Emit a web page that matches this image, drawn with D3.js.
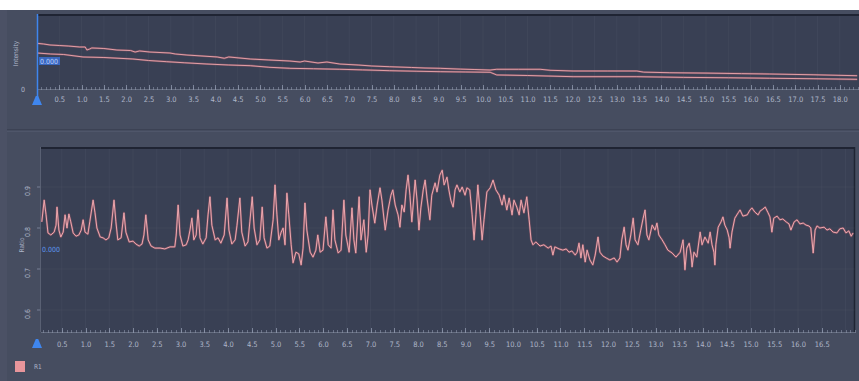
<!DOCTYPE html>
<html>
<head>
<meta charset="utf-8">
<script src="https://cdn.jsdelivr.net/npm/d3@7/dist/d3.min.js"></script>
<style>
  html, body { margin: 0; padding: 0; background: #ffffff; }
  svg { display: block; }
  text { font-family: "DejaVu Sans Condensed", "Liberation Sans", "DejaVu Sans", sans-serif; }
</style>
</head>
<body>
<svg id="chart" width="859" height="381"></svg>
<script>
// ---- Intensity traces (time in s, intensity in arbitrary units) ----
const intensityUpper = [
  [0,0.609],[0.15,0.600],[0.29,0.587],[0.5,0.580],[0.7,0.573],[0.96,0.560],[1.08,0.560],[1.12,0.520],
  [1.18,0.533],[1.23,0.547],[1.5,0.540],[1.79,0.520],[2.1,0.513],[2.2,0.493],[2.3,0.507],[2.53,0.493],
  [2.98,0.480],[3.1,0.467],[3.36,0.453],[3.7,0.440],[4.04,0.427],[4.2,0.410],[4.3,0.427],[4.78,0.400],
  [5.2,0.387],[5.67,0.373],[5.9,0.360],[6.0,0.373],[6.3,0.347],[6.5,0.360],[6.79,0.333],[7.2,0.320],
  [7.5,0.307],[7.91,0.297],[8.4,0.287],[8.7,0.280],[9.04,0.276],[9.5,0.265],[9.8,0.260],[10.16,0.253],
  [10.31,0.263],[10.8,0.263],[11.28,0.263],[11.5,0.250],[12.02,0.240],[12.8,0.240],[13.45,0.240],
  [13.6,0.225],[14.19,0.217],[15.0,0.212],[15.8,0.205],[16.43,0.200],[17.4,0.190],[18.39,0.177]
];
const intensityLower = [
  [0,0.480],[0.3,0.467],[0.6,0.460],[1.03,0.427],[1.5,0.420],[2.15,0.400],[2.5,0.380],[2.91,0.364],
  [3.3,0.350],[3.81,0.333],[4.3,0.320],[4.78,0.311],[5.2,0.290],[5.67,0.276],[6.2,0.270],[6.79,0.263],
  [7.3,0.255],[7.91,0.244],[8.5,0.237],[9.04,0.231],[9.6,0.227],[10.16,0.223],[10.31,0.187],[11.0,0.180],
  [12.02,0.164],[13.45,0.164],[14.5,0.155],[15.5,0.150],[16.43,0.143],[17.4,0.137],[18.39,0.129]
];

// ---- Ratio trace R1 (time in s, ratio) ----
const ratioR1 = [
  [0.08,0.815],[0.13,0.868],[0.17,0.832],[0.21,0.788],[0.27,0.783],[0.34,0.790],[0.38,0.807],[0.40,0.851],
  [0.44,0.795],[0.48,0.778],[0.53,0.790],[0.57,0.832],[0.61,0.800],[0.65,0.834],[0.69,0.815],[0.74,0.788],
  [0.80,0.780],[0.86,0.783],[0.91,0.795],[0.95,0.820],[0.99,0.790],[1.05,0.785],[1.09,0.815],[1.16,0.868],
  [1.20,0.837],[1.24,0.800],[1.31,0.778],[1.37,0.776],[1.43,0.771],[1.49,0.776],[1.54,0.800],[1.60,0.868],
  [1.64,0.815],[1.68,0.771],[1.75,0.776],[1.81,0.837],[1.85,0.790],[1.92,0.766],[2.00,0.768],[2.06,0.761],
  [2.13,0.756],[2.19,0.761],[2.23,0.783],[2.27,0.832],[2.32,0.771],[2.38,0.756],[2.46,0.751],[2.57,0.751],
  [2.67,0.749],[2.78,0.754],[2.88,0.754],[2.91,0.783],[2.95,0.856],[2.99,0.783],[3.05,0.756],[3.12,0.759],
  [3.16,0.771],[3.20,0.795],[3.24,0.824],[3.28,0.771],[3.33,0.783],[3.37,0.844],[3.41,0.776],[3.47,0.761],
  [3.54,0.776],[3.58,0.832],[3.62,0.876],[3.66,0.807],[3.73,0.771],[3.79,0.776],[3.85,0.763],[3.92,0.783],
  [3.98,0.873],[4.02,0.795],[4.08,0.761],[4.15,0.771],[4.19,0.807],[4.25,0.873],[4.29,0.790],[4.36,0.756],
  [4.42,0.766],[4.46,0.815],[4.51,0.876],[4.55,0.800],[4.61,0.759],[4.67,0.771],[4.72,0.851],[4.76,0.776],
  [4.82,0.751],[4.88,0.756],[4.95,0.820],[4.99,0.905],[5.03,0.832],[5.07,0.771],[5.12,0.790],[5.16,0.800],
  [5.20,0.759],[5.24,0.885],[5.28,0.832],[5.33,0.759],[5.37,0.715],[5.43,0.741],[5.49,0.737],[5.54,0.710],
  [5.58,0.751],[5.62,0.861],[5.66,0.795],[5.73,0.741],[5.79,0.729],[5.85,0.746],[5.89,0.783],[5.94,0.741],
  [6.00,0.746],[6.06,0.827],[6.11,0.759],[6.17,0.751],[6.21,0.844],[6.25,0.771],[6.32,0.739],[6.38,0.746],
  [6.44,0.868],[6.48,0.783],[6.55,0.741],[6.61,0.849],[6.65,0.771],[6.69,0.739],[6.76,0.876],[6.80,0.771],
  [6.86,0.820],[6.91,0.741],[6.95,0.783],[6.99,0.893],[7.03,0.856],[7.09,0.812],[7.14,0.856],[7.20,0.898],
  [7.24,0.868],[7.31,0.795],[7.37,0.844],[7.43,0.880],[7.47,0.893],[7.52,0.856],[7.58,0.832],[7.62,0.802],
  [7.66,0.856],[7.71,0.839],[7.75,0.893],[7.79,0.929],[7.83,0.880],[7.87,0.815],[7.94,0.917],[7.98,0.868],
  [8.02,0.795],[8.06,0.849],[8.11,0.893],[8.15,0.917],[8.19,0.873],[8.25,0.820],[8.29,0.880],[8.36,0.910],
  [8.40,0.888],[8.46,0.929],[8.51,0.941],[8.55,0.905],[8.61,0.924],[8.65,0.893],[8.69,0.868],[8.74,0.851],
  [8.78,0.893],[8.82,0.905],[8.88,0.888],[8.93,0.900],[8.99,0.880],[9.03,0.898],[9.09,0.893],[9.14,0.832],
  [9.18,0.771],[9.22,0.832],[9.26,0.905],[9.31,0.832],[9.35,0.771],[9.39,0.820],[9.45,0.888],[9.52,0.898],
  [9.58,0.917],[9.64,0.893],[9.71,0.880],[9.77,0.856],[9.81,0.880],[9.87,0.844],[9.92,0.873],[9.98,0.832],
  [10.02,0.868],[10.08,0.851],[10.13,0.832],[10.17,0.868],[10.23,0.837],[10.29,0.876],[10.34,0.820],[10.38,0.771],
  [10.42,0.759],[10.48,0.766],[10.57,0.756],[10.65,0.759],[10.74,0.751],[10.80,0.756],[10.84,0.734],[10.88,0.754],
  [10.97,0.749],[11.05,0.746],[11.12,0.749],[11.18,0.741],[11.24,0.744],[11.31,0.734],[11.35,0.741],[11.39,0.763],
  [11.43,0.727],[11.47,0.759],[11.52,0.717],[11.56,0.746],[11.62,0.722],[11.68,0.710],[11.73,0.734],[11.79,0.778],
  [11.83,0.741],[11.89,0.732],[11.96,0.727],[12.04,0.722],[12.13,0.727],[12.19,0.717],[12.25,0.727],[12.29,0.771],
  [12.34,0.802],[12.38,0.759],[12.42,0.746],[12.48,0.783],[12.53,0.824],[12.57,0.771],[12.63,0.759],[12.69,0.795],
  [12.74,0.824],[12.78,0.844],[12.82,0.783],[12.86,0.771],[12.93,0.807],[12.99,0.795],[13.03,0.812],[13.07,0.783],
  [13.14,0.771],[13.20,0.759],[13.26,0.746],[13.35,0.739],[13.43,0.729],[13.52,0.741],[13.58,0.771],[13.62,0.698],
  [13.66,0.751],[13.71,0.763],[13.75,0.734],[13.77,0.705],[13.81,0.741],[13.87,0.729],[13.94,0.790],[13.98,0.759],
  [14.04,0.778],[14.11,0.763],[14.15,0.790],[14.19,0.759],[14.23,0.741],[14.25,0.710],[14.27,0.759],[14.32,0.802],
  [14.38,0.815],[14.42,0.827],[14.46,0.807],[14.51,0.795],[14.55,0.776],[14.57,0.751],[14.61,0.790],[14.67,0.824],
  [14.74,0.837],[14.78,0.844],[14.84,0.829],[14.93,0.832],[14.99,0.844],[15.03,0.849],[15.09,0.839],[15.16,0.832],
  [15.20,0.841],[15.26,0.846],[15.31,0.851],[15.37,0.837],[15.41,0.827],[15.45,0.790],[15.49,0.824],[15.56,0.829],
  [15.62,0.820],[15.68,0.822],[15.75,0.815],[15.81,0.810],[15.85,0.795],[15.92,0.815],[15.98,0.820],[16.04,0.810],
  [16.11,0.812],[16.17,0.807],[16.23,0.805],[16.27,0.800],[16.32,0.739],[16.36,0.795],[16.40,0.805],[16.46,0.800],
  [16.55,0.802],[16.61,0.795],[16.67,0.798],[16.74,0.790],[16.82,0.788],[16.88,0.798],[16.95,0.800],[17.01,0.788],
  [17.07,0.793],[17.12,0.780],[17.16,0.788]
];

// ---- Axis tick values ----
const intensityTimeTicks = [0.5,1.0,1.5,2.0,2.5,3.0,3.5,4.0,4.5,5.0,5.5,6.0,6.5,7.0,7.5,8.0,8.5,9.0,
  9.5,10.0,10.5,11.0,11.5,12.0,12.5,13.0,13.5,14.0,14.5,15.0,15.5,16.0,16.5,17.0,17.5,18.0];
const ratioTimeTicks = [0.5,1.0,1.5,2.0,2.5,3.0,3.5,4.0,4.5,5.0,5.5,6.0,6.5,7.0,7.5,8.0,8.5,9.0,
  9.5,10.0,10.5,11.0,11.5,12.0,12.5,13.0,13.5,14.0,14.5,15.0,15.5,16.0,16.5];
const ratioTicks = [0.6,0.7,0.8,0.9];
const intensityTicks = [0];
const seriesNames = ["R1"];

// ---- Palette ----
const C = {
  panel: "#464d60",
  plot: "#394054",
  plotEdge: "#1f2433",
  grid: "rgba(255,255,255,0.035)",
  ruler: "#8d96ab",
  label: "#aeb6c8",
  trace: "#eea7ad",
  traceHalo: "#b5606f",
  blue: "#3f86ee"
};

const svg = d3.select("#chart");
const W = 859, H = 381;

// backgrounds
svg.append("rect").attr("width", W).attr("height", H).attr("fill", C.panel);
svg.append("rect").attr("width", W).attr("height", 10).attr("fill", "#ffffff");
svg.append("rect").attr("x", 0).attr("y", 10).attr("width", 7).attr("height", H - 10).attr("fill", "#4b5165");
svg.append("line").attr("x1", 7).attr("x2", W).attr("y1", 129.5).attr("y2", 129.5)
  .attr("stroke", "#3c4254").attr("stroke-width", 1);
svg.append("line").attr("x1", 7).attr("x2", W).attr("y1", 131.5).attr("y2", 131.5)
  .attr("stroke", "#4f566a").attr("stroke-width", 1);

// ---------- Top panel: Intensity ----------
const topBox = { left: 37, right: 859, top: 14, bottom: 89 };
const xTop = d3.scaleLinear().domain([0, 18]).range([37, 37 + 18 * 44.6]);
const yTop = d3.scaleLinear().domain([0, 1]).range([topBox.bottom, topBox.top]);

svg.append("rect").attr("x", topBox.left).attr("y", topBox.top)
  .attr("width", topBox.right - topBox.left).attr("height", topBox.bottom - topBox.top).attr("fill", C.plot);
svg.append("line").attr("x1", topBox.left).attr("x2", topBox.right).attr("y1", topBox.top + 1).attr("y2", topBox.top + 1)
  .attr("stroke", C.plotEdge).attr("stroke-width", 2);

const gTopGrid = svg.append("g");
gTopGrid.selectAll("line").data(intensityTimeTicks).join("line")
  .attr("x1", d => xTop(d)).attr("x2", d => xTop(d))
  .attr("y1", topBox.top + 2).attr("y2", topBox.bottom)
  .attr("stroke", C.grid);

const topLine = d3.line().x(d => xTop(d[0])).y(d => yTop(d[1]));
const gTopLines = svg.append("g");
[intensityUpper, intensityLower].forEach(series => {
  gTopLines.append("path").datum(series).attr("d", topLine)
    .attr("fill", "none").attr("stroke", C.traceHalo).attr("stroke-opacity", 0.45).attr("stroke-width", 2.2);
  gTopLines.append("path").datum(series).attr("d", topLine)
    .attr("fill", "none").attr("stroke", C.trace).attr("stroke-width", 0.9);
});

// ruler-style time axis: minor ticks every 0.1 s, major ticks at the labelled values
function ruler(g, scale, y, x0, x1, majors) {
  const minor = d3.range(Math.ceil(scale.invert(x0) * 10), Math.floor(scale.invert(x1) * 10) + 1).map(v => v / 10);
  g.append("line").attr("x1", x0).attr("x2", x1).attr("y1", y + 0.5).attr("y2", y + 0.5)
    .attr("stroke", C.ruler).attr("stroke-opacity", 0.45);
  g.selectAll("line.minor").data(minor).join("line").attr("class", "minor")
    .attr("x1", d => Math.round(scale(d)) + 0.5).attr("x2", d => Math.round(scale(d)) + 0.5)
    .attr("y1", y - 2).attr("y2", y + 1)
    .attr("stroke", C.ruler).attr("stroke-opacity", 0.6);
  g.selectAll("line.major").data(majors).join("line").attr("class", "major")
    .attr("x1", d => Math.round(scale(d)) + 0.5).attr("x2", d => Math.round(scale(d)) + 0.5)
    .attr("y1", y - 4).attr("y2", y + 1)
    .attr("stroke", C.ruler).attr("stroke-opacity", 0.8);
}

const gTopAxis = svg.append("g");
ruler(gTopAxis, xTop, topBox.bottom, topBox.left + 1, topBox.right, intensityTimeTicks);
const axTop = d3.axisBottom(xTop).tickValues(intensityTimeTicks).tickSize(0).tickPadding(0)
  .tickFormat(d3.format(".1f"));
svg.append("g").attr("transform", `translate(0,${topBox.bottom + 8})`).call(axTop)
  .call(g => g.select(".domain").remove())
  .call(g => g.selectAll("text").attr("fill", C.label).attr("font-size", 7.5).attr("dy", "0.71em"));

// left axis (blue)
svg.append("line").attr("x1", topBox.left + 0.5).attr("x2", topBox.left + 0.5).attr("y1", topBox.top).attr("y2", 100)
  .attr("stroke", C.blue).attr("stroke-width", 1.5);
svg.append("g").selectAll("text").data(intensityTicks).join("text")
  .attr("x", 23).attr("y", d => yTop(d) + 2.5).attr("text-anchor", "middle")
  .attr("fill", C.label).attr("font-size", 7).text(d => d);
svg.append("text").attr("transform", `translate(18,${(topBox.top + topBox.bottom) / 2 + 2}) rotate(-90)`)
  .attr("text-anchor", "middle").attr("fill", C.label).attr("font-size", 6.5).text("Intensity");

// cursor read-out
svg.append("rect").attr("x", 39).attr("y", 57).attr("width", 21).attr("height", 8)
  .attr("fill", "#3a6ed2").attr("fill-opacity", 0.85);
svg.append("text").attr("x", 40).attr("y", 63.5).attr("fill", "#bcd2ff").attr("font-size", 7).text("0.000");

// cursor marker
function marker(cx, cy) {
  const p = d3.path();
  p.moveTo(cx - 1.2, cy - 5); p.lineTo(cx + 1.2, cy - 5);
  p.lineTo(cx + 5, cy + 4); p.lineTo(cx - 5, cy + 4); p.closePath();
  svg.append("path").attr("d", p.toString()).attr("fill", C.blue);
}
marker(37, 101);

// ---------- Bottom panel: Ratio ----------
const botBox = { left: 40, right: 855, top: 147, bottom: 332 };
const xBot = d3.scaleLinear().domain([0, 16.5]).range([38, 38 + 16.5 * 47.5]);
const yBot = d3.scaleLinear().domain([0.6, 0.9]).range([310, 187]);

svg.append("rect").attr("x", botBox.left).attr("y", botBox.top)
  .attr("width", botBox.right - botBox.left).attr("height", botBox.bottom - botBox.top).attr("fill", C.plot);
svg.append("line").attr("x1", botBox.left).attr("x2", botBox.right).attr("y1", botBox.top + 1).attr("y2", botBox.top + 1)
  .attr("stroke", C.plotEdge).attr("stroke-width", 2);
svg.append("line").attr("x1", botBox.right - 0.5).attr("x2", botBox.right - 0.5).attr("y1", botBox.top).attr("y2", botBox.bottom)
  .attr("stroke", C.plotEdge).attr("stroke-width", 1.5);
svg.append("line").attr("x1", botBox.left + 0.5).attr("x2", botBox.left + 0.5).attr("y1", botBox.top).attr("y2", botBox.bottom)
  .attr("stroke", "#596073").attr("stroke-width", 1);

const gBotGrid = svg.append("g");
gBotGrid.selectAll("line.v").data(ratioTimeTicks.concat([17.0])).join("line").attr("class", "v")
  .attr("x1", d => xBot(d)).attr("x2", d => xBot(d))
  .attr("y1", botBox.top + 2).attr("y2", botBox.bottom)
  .attr("stroke", C.grid);
gBotGrid.selectAll("line.h").data(ratioTicks).join("line").attr("class", "h")
  .attr("x1", botBox.left).attr("x2", botBox.right)
  .attr("y1", d => yBot(d)).attr("y2", d => yBot(d))
  .attr("stroke", C.grid);

const botLine = d3.line().x(d => xBot(d[0])).y(d => yBot(d[1]));
svg.append("path").datum(ratioR1).attr("d", botLine)
  .attr("fill", "none").attr("stroke", C.traceHalo).attr("stroke-opacity", 0.5)
  .attr("stroke-width", 2.2).attr("stroke-linejoin", "round");
svg.append("path").datum(ratioR1).attr("d", botLine)
  .attr("fill", "none").attr("stroke", C.trace).attr("stroke-width", 1).attr("stroke-linejoin", "round");

const gBotAxis = svg.append("g");
ruler(gBotAxis, xBot, botBox.bottom, botBox.left + 1, botBox.right, ratioTimeTicks);
const axBot = d3.axisBottom(xBot).tickValues(ratioTimeTicks).tickSize(0).tickPadding(0)
  .tickFormat(d3.format(".1f"));
svg.append("g").attr("transform", `translate(0,${botBox.bottom + 10})`).call(axBot)
  .call(g => g.select(".domain").remove())
  .call(g => g.selectAll("text").attr("fill", C.label).attr("font-size", 7.5).attr("dy", "0.71em"));

// y ticks (rotated labels)
const gBotY = svg.append("g");
gBotY.selectAll("line").data(ratioTicks).join("line")
  .attr("x1", botBox.left - 3).attr("x2", botBox.left)
  .attr("y1", d => yBot(d)).attr("y2", d => yBot(d))
  .attr("stroke", C.ruler).attr("stroke-opacity", 0.7);
gBotY.selectAll("text").data(ratioTicks).join("text")
  .attr("transform", d => `translate(30,${yBot(d) + 4}) rotate(-90)`)
  .attr("text-anchor", "middle").attr("fill", C.label).attr("font-size", 7)
  .text(d3.format(".1f"));
svg.append("text").attr("transform", `translate(24,245) rotate(-90)`)
  .attr("text-anchor", "middle").attr("fill", C.label).attr("font-size", 6.5).text("Ratio");

svg.append("text").attr("x", 42).attr("y", 252).attr("fill", "#5b95f0").attr("font-size", 7).text("0.000");
marker(37, 344);

// legend
const gLegend = svg.append("g");
gLegend.selectAll("rect").data(seriesNames).join("rect")
  .attr("x", 15).attr("y", 361).attr("width", 10).attr("height", 11).attr("fill", "#e8959b");
gLegend.selectAll("text").data(seriesNames).join("text")
  .attr("x", 34).attr("y", 369).attr("fill", C.label).attr("font-size", 6.5).text(d => d);
</script>
</body>
</html>
